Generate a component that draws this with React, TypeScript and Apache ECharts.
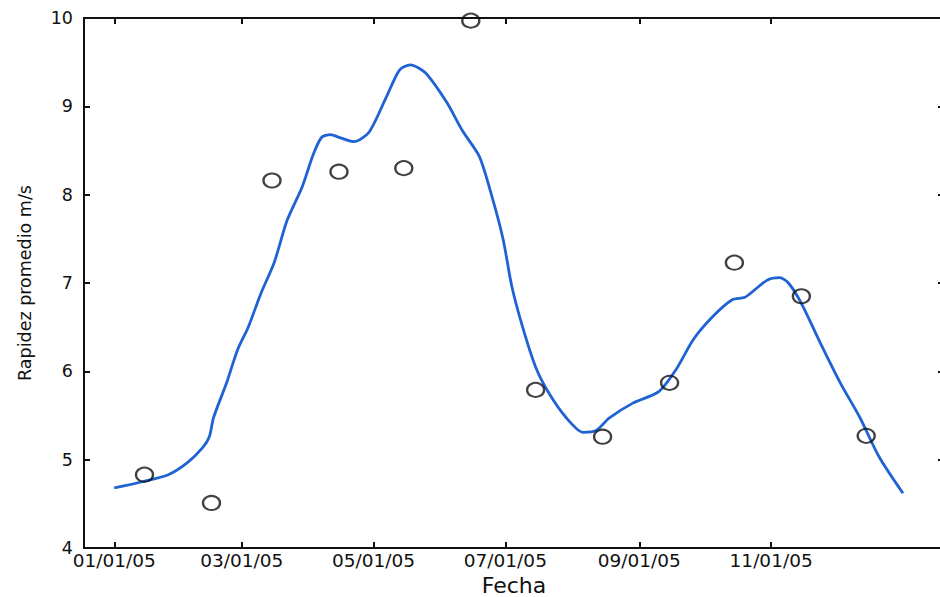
import React, { useEffect, useRef } from "react";
import * as echarts from "echarts";

// Monthly observed mean speed (circles)
const obsDates = [
  "2005-01-15", "2005-02-15", "2005-03-15", "2005-04-15", "2005-05-15", "2005-06-15",
  "2005-07-15", "2005-08-15", "2005-09-15", "2005-10-15", "2005-11-15", "2005-12-15",
];
const obsValues = [4.83, 4.51, 8.16, 8.26, 8.3, 9.97, 5.79, 5.26, 5.87, 7.23, 6.85, 5.27];

// Fitted smooth curve (blue line)
const fitDates = [
  "2005-01-01", "2005-01-14", "2005-01-26", "2005-02-04", "2005-02-11", "2005-02-14",
  "2005-02-16", "2005-02-22", "2005-02-27", "2005-03-04", "2005-03-10", "2005-03-16",
  "2005-03-22", "2005-03-29", "2005-04-03", "2005-04-07", "2005-04-11", "2005-04-16",
  "2005-04-22", "2005-04-29", "2005-05-07", "2005-05-13", "2005-05-18", "2005-05-25",
  "2005-06-04", "2005-06-11", "2005-06-19", "2005-06-25", "2005-06-30", "2005-07-04",
  "2005-07-09", "2005-07-15", "2005-07-21", "2005-07-29", "2005-08-06", "2005-08-12",
  "2005-08-18", "2005-08-29", "2005-09-10", "2005-09-18", "2005-09-26", "2005-10-05",
  "2005-10-14", "2005-10-20", "2005-10-30", "2005-11-05", "2005-11-09", "2005-11-15",
  "2005-11-23", "2005-12-03", "2005-12-12", "2005-12-21", "2006-01-01",
];
const fitValues = [
  4.68, 4.75, 4.83, 4.97, 5.14, 5.26,
  5.48, 5.87, 6.24, 6.5, 6.89, 7.23,
  7.71, 8.09, 8.45, 8.65, 8.68, 8.64,
  8.6, 8.71, 9.11, 9.41, 9.47, 9.38,
  9.04, 8.73, 8.43, 7.96, 7.49, 6.96,
  6.5, 6.05, 5.76, 5.48, 5.31, 5.33,
  5.47, 5.64, 5.77, 6.02, 6.36, 6.62,
  6.81, 6.84, 7.03, 7.06, 7.0, 6.77,
  6.36, 5.87, 5.48, 5.03, 4.62,
];

// Axis ticks
const xTickDates = ["2005-01-01", "2005-03-01", "2005-05-01", "2005-07-01", "2005-09-01", "2005-11-01"];
const xRange = ["2004-12-18", "2006-01-20"];

const ts = (s: string) => {
  const [y, m, d] = s.split("-").map(Number);
  return new Date(y, m - 1, d).getTime();
};
const pad = (n: number) => (n < 10 ? "0" + n : "" + n);
const fmt = (v: number) => {
  const d = new Date(v);
  return `${pad(d.getMonth() + 1)}/${pad(d.getDate())}/${pad(d.getFullYear() % 100)}`;
};

const FONT = "DejaVu Sans";

export default function App() {
  const ref = useRef<HTMLDivElement>(null);
  useEffect(() => {
    if (!ref.current) return;
    const chart = echarts.init(ref.current, null, { renderer: "svg" });
    const tickTs = xTickDates.map(ts);
    const lineStyle = { color: "#111", width: 2 };
    const tickStyle = { show: true, inside: true, length: 6, lineStyle: { color: "#111", width: 2 } };
    chart.setOption({
      animation: false,
      backgroundColor: "#ffffff",
      grid: {
        left: 84,
        right: -4,
        top: 18,
        bottom: 49,
        containLabel: false,
        outerBoundsMode: "none",
      },
      xAxis: [
        {
          type: "value",
          position: "bottom",
          min: ts(xRange[0]),
          max: ts(xRange[1]),
          axisLine: { show: true, lineStyle },
          axisTick: { ...tickStyle, customValues: tickTs },
          axisLabel: {
            customValues: tickTs,
            formatter: (v: number) => fmt(v),
            fontFamily: FONT,
            fontSize: 18.5,
            color: "#111",
            margin: 3,
          },
          splitLine: { show: false },
          name: "Fecha",
          nameLocation: "middle",
          nameGap: 24,
          nameTextStyle: { fontFamily: FONT, fontSize: 22, color: "#111" },
        },
        {
          type: "value",
          position: "top",
          min: ts(xRange[0]),
          max: ts(xRange[1]),
          axisLine: { show: true, lineStyle },
          axisTick: { ...tickStyle, customValues: tickTs },
          axisLabel: { show: false },
          splitLine: { show: false },
        },
      ],
      yAxis: [
        {
          type: "value",
          position: "left",
          min: 4,
          max: 10,
          interval: 1,
          axisLine: { show: true, lineStyle },
          axisTick: tickStyle,
          axisLabel: {
            fontFamily: FONT,
            fontSize: 17.5,
            color: "#111",
            margin: 11,
          },
          splitLine: { show: false },
          name: "Rapidez promedio m/s",
          nameLocation: "middle",
          nameGap: 50,
          nameRotate: 90,
          nameTextStyle: { fontFamily: FONT, fontSize: 17.5, color: "#111" },
        },
        {
          type: "value",
          position: "right",
          min: 4,
          max: 10,
          interval: 1,
          axisLine: { show: true, lineStyle },
          axisTick: tickStyle,
          axisLabel: { show: false },
          splitLine: { show: false },
        },
      ],
      series: [
        {
          type: "line",
          data: fitDates.map((d, i) => [ts(d), fitValues[i]]),
          smooth: 0.25,
          showSymbol: false,
          lineStyle: { color: "#1e62d4", width: 2.8 },
          z: 2,
        },
        {
          type: "scatter",
          data: obsDates.map((d, i) => [ts(d), obsValues[i]]),
          symbol: "circle",
          symbolSize: [17, 14],
          itemStyle: { color: "rgba(0,0,0,0)", borderColor: "#111", borderWidth: 2.2 },
          z: 3,
        },
      ],
    });
    return () => chart.dispose();
  }, []);
  return (
    <div
      ref={ref}
      style={{ position: "fixed", left: 0, top: 0, width: 940, height: 597, background: "#fff" }}
    />
  );
}
